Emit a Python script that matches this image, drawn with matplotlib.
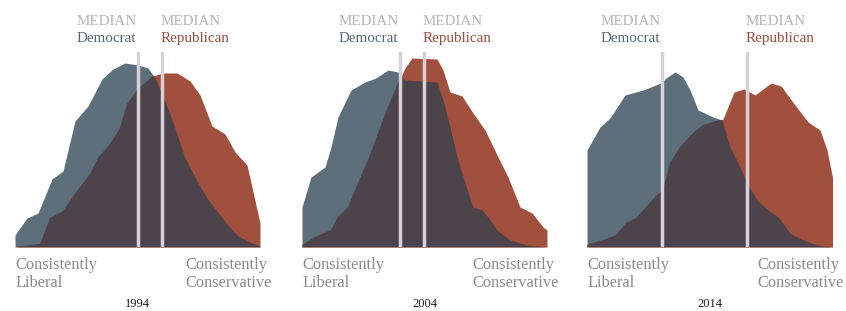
import matplotlib.pyplot as plt

# ideology position (0 = consistently liberal, 245 = consistently conservative)
# and share height
years = ['1994', '2004', '2014']

dem_x_1994 = [0, 12, 23, 37, 48, 60, 73, 87, 98, 110, 123, 133, 140, 150, 160, 170, 182, 192, 202, 212, 223, 237, 245]
dem_h_1994 = [12, 29, 34, 68, 76, 126, 141, 168, 178, 184, 182, 179, 169, 146, 119, 89, 66, 49, 36, 23, 11, 4, 1]
rep_x_1994 = [0, 25, 35, 48, 62, 75, 83, 95, 105, 112, 123, 138, 148, 162, 175, 185, 197, 210, 220, 232, 245]
rep_h_1994 = [0, 3, 29, 36, 56, 73, 89, 103, 119, 143, 158, 171, 174, 174, 166, 152, 121, 113, 95, 82, 24]

dem_x_2004 = [0, 9, 23, 29, 36, 49, 63, 74, 86, 96, 103, 135, 141, 148, 155, 163, 171, 180, 186, 195, 208, 225, 245]
dem_h_2004 = [40, 70, 80, 100, 130, 157, 165, 169, 177, 175, 167, 165, 147, 120, 90, 64, 40, 37, 30, 17, 7, 2, 0]
rep_x_2004 = [0, 13, 29, 36, 46, 56, 66, 76, 86, 96, 103, 110, 135, 141, 148, 160, 171, 183, 195, 206, 218, 230, 241, 245]
rep_h_2004 = [2, 10, 17, 30, 40, 64, 87, 114, 140, 164, 179, 189, 188, 177, 155, 151, 134, 117, 92, 70, 40, 34, 20, 17]

dem_x_2014 = [0, 13, 23, 38, 56, 74, 79, 88, 96, 103, 111, 126, 135, 143, 153, 160, 170, 181, 191, 203, 216, 230, 246]
dem_h_2014 = [97, 120, 129, 152, 157, 164, 169, 175, 170, 157, 137, 130, 127, 100, 80, 64, 47, 37, 30, 14, 7, 2, 0]
rep_x_2014 = [0, 16, 29, 39, 49, 59, 68, 76, 83, 93, 106, 116, 126, 136, 147, 157, 168, 184, 194, 208, 221, 233, 240, 246]
rep_h_2014 = [2, 7, 12, 24, 29, 40, 50, 57, 84, 100, 114, 122, 125, 128, 155, 158, 152, 164, 161, 142, 125, 117, 97, 67]

dem_median = [123, 98, 75]
rep_median = [147, 122, 160]

dem_x = [dem_x_1994, dem_x_2004, dem_x_2014]
dem_h = [dem_h_1994, dem_h_2004, dem_h_2014]
rep_x = [rep_x_1994, rep_x_2004, rep_x_2014]
rep_h = [rep_h_1994, rep_h_2004, rep_h_2014]

DEM_COLOR = '#5e6f7c'
REP_COLOR = '#a2503e'
BOTH_COLOR = '#4d434b'
LINE_COLOR = '#d8d1d9'

plt.rcParams['font.family'] = ['Liberation Serif', 'DejaVu Serif']

W, H = 846, 311
fig = plt.figure(figsize=(W / 100, H / 100), dpi=100)

panel_left = [15, 302, 587]
panel_width = 245
baseline = 247
panel_height = 195

for i in range(3):
    ax = fig.add_axes([panel_left[i] / W, (H - baseline) / H, panel_width / W, panel_height / H])
    ax.set_xlim(0, panel_width)
    ax.set_ylim(0, panel_height)
    ax.axis('off')

    ax.fill_between(dem_x[i], 0, dem_h[i], color=DEM_COLOR, lw=0)
    rep_poly = ax.fill_between(rep_x[i], 0, rep_h[i], color=REP_COLOR, lw=0)
    # overlap of both parties drawn dark: democrat shape clipped to republican shape
    both = ax.fill_between(dem_x[i], 0, dem_h[i], color=BOTH_COLOR, lw=0)
    both.set_clip_path(rep_poly.get_paths()[0], ax.transData)

    for m, ha, name, col in [(dem_median[i], 'right', 'Democrat', '#5a6476'),
                             (rep_median[i], 'left', 'Republican', '#9c4b3c')]:
        ax.axvline(m, ymin=0, ymax=1, color=LINE_COLOR, lw=2.5)
        dx = -1.5 if ha == 'right' else -1
        ax.text(m + dx, 222, 'MEDIAN', ha=ha, va='baseline', fontsize=10.8,
                color='#b3b3b3', clip_on=False)
        ax.text(m + dx, 205, name, ha=ha, va='baseline', fontsize=10.8,
                color=col, clip_on=False)

    ax.text(0, -22, 'Consistently', ha='left', va='baseline', fontsize=11.8,
            color='#8a8a8a', clip_on=False)
    ax.text(0, -40, 'Liberal', ha='left', va='baseline', fontsize=11.8,
            color='#8a8a8a', clip_on=False)
    ax.text(170, -22, 'Consistently', ha='left', va='baseline', fontsize=11.8,
            color='#8a8a8a', clip_on=False)
    ax.text(170, -40, 'Conservative', ha='left', va='baseline', fontsize=11.8,
            color='#8a8a8a', clip_on=False)
    ax.text(panel_width / 2, -60, years[i], ha='center', va='baseline', fontsize=9,
            color='#1a1a1a', clip_on=False)

fig.savefig('out.png', dpi=100, facecolor='white')
